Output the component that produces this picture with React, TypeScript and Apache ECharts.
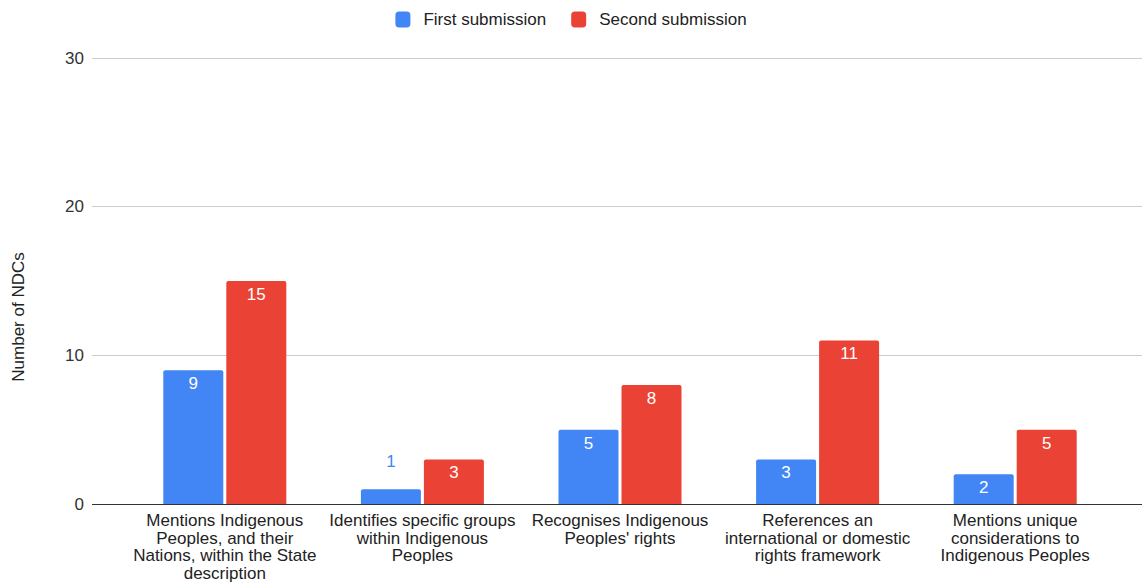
import React, { useEffect, useRef } from "react";
import * as echarts from "echarts";

const categories = [
  "Mentions Indigenous\nPeoples, and their\nNations, within the State\ndescription",
  "Identifies specific groups\nwithin Indigenous\nPeoples",
  "Recognises Indigenous\nPeoples' rights",
  "References an\ninternational or domestic\nrights framework",
  "Mentions unique\nconsiderations to\nIndigenous Peoples",
];
const firstSubmission = [9, 1, 5, 3, 2];
const secondSubmission = [15, 3, 8, 11, 5];
const yTicks = [0, 10, 20, 30];

const BLUE = "#4285F4";
const RED = "#EA4335";
const FONT = "'Liberation Sans', Arial, Helvetica, sans-serif";

// values too small to hold their label inside the bar get it above, in the bar colour
const SMALL = 2;

function barData(values: number[], color: string) {
  return values.map((v) =>
    v < SMALL
      ? { value: v, label: { position: "top", distance: 19, color } }
      : { value: v }
  );
}

export default function App() {
  const ref = useRef<HTMLDivElement>(null);

  useEffect(() => {
    if (!ref.current) return;
    const chart = echarts.init(ref.current, undefined, { renderer: "svg" });
    const yMax = yTicks[yTicks.length - 1];
    const barLabel = {
      show: true,
      position: "insideTop",
      distance: 5,
      color: "#ffffff",
      fontSize: 17,
      fontFamily: FONT,
    };
    chart.setOption({
      animation: false,
      textStyle: { fontFamily: FONT },
      legend: {
        top: 6,
        left: "center",
        itemWidth: 15,
        itemHeight: 16,
        itemGap: 25,
        icon: "roundRect",
        textStyle: { fontSize: 17, color: "#222", fontFamily: FONT, padding: [0, 0, 0, 8] },
        data: ["First submission", "Second submission"],
      },
      grid: [
        { left: 92, right: 0, top: 58, bottom: 79 },
        { left: 126, right: 28, top: 58, bottom: 79 },
      ],
      xAxis: [
        { gridIndex: 0, type: "value", min: 0, max: 1, show: false },
        {
          gridIndex: 1,
          type: "category",
          data: categories,
          axisLine: { show: false },
          axisTick: { show: false },
          axisLabel: {
            interval: 0,
            margin: 8,
            fontSize: 17,
            lineHeight: 17.5,
            color: "#222",
            fontFamily: FONT,
          },
        },
      ],
      yAxis: [
        {
          gridIndex: 0,
          type: "value",
          min: 0,
          max: yMax,
          interval: 10,
          axisLine: { show: false },
          axisTick: { show: false },
          axisLabel: { fontSize: 17, color: "#333", margin: 8, fontFamily: FONT },
          splitLine: { lineStyle: { color: "#cccccc", width: 1 } },
        },
        { gridIndex: 1, type: "value", min: 0, max: yMax, show: false },
      ],
      graphic: [
        {
          type: "text",
          x: 18,
          y: 317,
          rotation: Math.PI / 2,
          style: {
            text: "Number of NDCs",
            fontSize: 17,
            fill: "#222",
            fontFamily: FONT,
            align: "center",
            verticalAlign: "middle",
          },
        },
      ],
      series: [
        {
          type: "line",
          xAxisIndex: 0,
          yAxisIndex: 0,
          data: [],
          silent: true,
          markLine: {
            silent: true,
            symbol: "none",
            label: { show: false },
            lineStyle: { color: "#333333", width: 1.2, type: "solid" },
            data: [{ yAxis: 0 }],
          },
        },
        {
          name: "First submission",
          type: "bar",
          xAxisIndex: 1,
          yAxisIndex: 1,
          barWidth: 60,
          barGap: "5%",
          itemStyle: { color: BLUE, borderRadius: [2, 2, 0, 0] },
          label: barLabel,
          data: barData(firstSubmission, BLUE),
        },
        {
          name: "Second submission",
          type: "bar",
          xAxisIndex: 1,
          yAxisIndex: 1,
          barWidth: 60,
          barGap: "5%",
          itemStyle: { color: RED, borderRadius: [2, 2, 0, 0] },
          label: barLabel,
          data: barData(secondSubmission, RED),
        },
      ],
    });
    return () => chart.dispose();
  }, []);

  return (
    <div
      ref={ref}
      style={{ position: "fixed", left: 0, top: 0, width: 1142, height: 583, background: "#fff" }}
    />
  );
}
